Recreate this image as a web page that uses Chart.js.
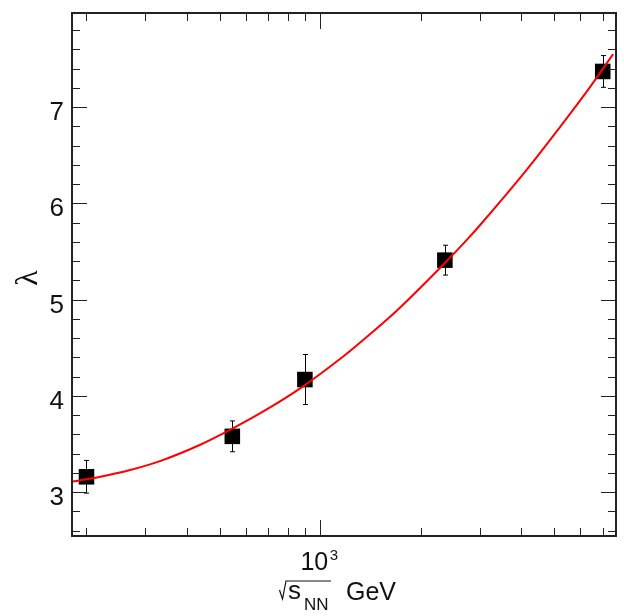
<!DOCTYPE html>
<html>
<head>
<meta charset="utf-8">
<script src="https://cdn.jsdelivr.net/npm/chart.js@4.4.1/dist/chart.umd.min.js"></script>
<style>
  body { margin: 0; background: #fff; overflow: hidden; }
</style>
</head>
<body>
<canvas id="myChart" width="624" height="616"></canvas>
<script>
// measured points (sqrt(s_NN) in GeV, lambda, error)
const energies = [200, 546, 900, 2360, 7000];
const lambdas = [3.16, 3.58, 4.17, 5.41, 7.37];
const errors = [0.17, 0.16, 0.26, 0.155, 0.165];

// red curve
const curveX = [182, 220, 270, 330, 436, 546, 700, 898, 1143, 1312, 1700, 2360, 2745, 3000, 4150, 5210, 6300, 7520];
const curveY = [3.11, 3.16, 3.23, 3.32, 3.49, 3.66, 3.87, 4.11, 4.38, 4.55, 4.89, 5.38, 5.62, 5.77, 6.35, 6.79, 7.17, 7.55];

const yMajor = [3, 4, 5, 6, 7];
const xMinor = [200, 300, 400, 500, 600, 700, 800, 900, 2000, 3000, 4000, 5000, 6000, 7000];
const xMajor = [1000];

const font = '"Liberation Sans", Arial, sans-serif';

const frame = {
    id: 'frame',
    beforeDatasetsDraw(chart) {
        const ctx = chart.ctx;
        const x = chart.scales.x, y = chart.scales.y;
        ctx.save();
        ctx.strokeStyle = '#000';
        ctx.lineWidth = 1;
        energies.forEach((e, i) => {
            const px = Math.round(x.getPixelForValue(e)) + 0.5;
            const top = y.getPixelForValue(lambdas[i] + errors[i]);
            const bot = y.getPixelForValue(lambdas[i] - errors[i]);
            ctx.beginPath();
            ctx.moveTo(px, top); ctx.lineTo(px, bot);
            ctx.moveTo(px - 2.5, top); ctx.lineTo(px + 2.5, top);
            ctx.moveTo(px - 2.5, bot); ctx.lineTo(px + 2.5, bot);
            ctx.stroke();
        });
        ctx.restore();
    },
    afterDraw(chart) {
        const ctx = chart.ctx;
        const a = chart.chartArea;
        const x = chart.scales.x, y = chart.scales.y;
        ctx.save();
        ctx.strokeStyle = '#222';
        ctx.lineWidth = 1;
        ctx.beginPath();
        // y ticks, left and right
        for (let v = 2.6; v < 8; v += 0.2) {
            const py = Math.round(y.getPixelForValue(v)) + 0.5;
            const isMajor = Math.abs(v - Math.round(v)) < 0.01;
            const len = isMajor ? 15 : 8;
            ctx.moveTo(a.left, py); ctx.lineTo(a.left + len, py);
            ctx.moveTo(a.right, py); ctx.lineTo(a.right - len, py);
        }
        // x ticks, bottom and top
        xMinor.concat(xMajor).forEach(v => {
            const px = Math.round(x.getPixelForValue(v)) + 0.5;
            const len = xMajor.includes(v) ? 16 : 8;
            ctx.moveTo(px, a.bottom); ctx.lineTo(px, a.bottom - len);
            ctx.moveTo(px, a.top); ctx.lineTo(px, a.top + len);
        });
        ctx.stroke();

        // frame
        ctx.lineWidth = 2;
        ctx.strokeRect(a.left, a.top, a.right - a.left, a.bottom - a.top);

        // y tick labels
        ctx.fillStyle = '#111';
        ctx.font = '26px ' + font;
        ctx.textAlign = 'right';
        ctx.textBaseline = 'alphabetic';
        yMajor.forEach(v => {
            ctx.fillText(String(v), a.left - 8, y.getPixelForValue(v) + 13);
        });

        // x tick label 10^3
        const px3 = x.getPixelForValue(1000);
        ctx.font = '25px ' + font;
        ctx.textAlign = 'right';
        ctx.fillText('10', px3 + 8, 570);
        ctx.font = '15px ' + font;
        ctx.textAlign = 'left';
        ctx.fillText('3', px3 + 9.5, 560);

        // x title: sqrt(s_NN) GeV
        ctx.lineWidth = 1.2;
        ctx.strokeStyle = '#111';
        ctx.beginPath();
        ctx.moveTo(279.5, 590);
        ctx.lineTo(282.5, 599);
        ctx.lineTo(286, 581);
        ctx.lineTo(331, 581);
        ctx.stroke();
        ctx.font = '26px ' + font;
        ctx.fillText('s', 288, 599);
        ctx.font = '17px ' + font;
        ctx.fillText('NN', 304, 610);
        ctx.font = '25px ' + font;
        ctx.fillText('GeV', 346, 600);

        // y title
        ctx.save();
        ctx.translate(29, 278);
        ctx.rotate(-Math.PI / 2);
        ctx.font = '32px "Liberation Serif", serif';
        ctx.textAlign = 'center';
        ctx.textBaseline = 'middle';
        ctx.fillText('λ', 0, 0);
        ctx.restore();

        ctx.restore();
    }
};

const ctx = document.getElementById('myChart');
new Chart(ctx, {
    type: 'scatter',
    data: {
        datasets: [{
            label: 'fit',
            type: 'line',
            data: curveX.map((v, i) => ({ x: v, y: curveY[i] })),
            borderColor: '#ff0000',
            borderWidth: 2,
            pointRadius: 0,
            cubicInterpolationMode: 'monotone',
            fill: false,
            order: 0
        }, {
            label: 'data',
            data: energies.map((v, i) => ({ x: v, y: lambdas[i] })),
            pointStyle: 'rect',
            pointRadius: 11,
            backgroundColor: '#000',
            borderColor: '#000',
            borderWidth: 0,
            order: 1
        }]
    },
    options: {
        responsive: false,
        animation: false,
        layout: {
            autoPadding: false,
            padding: { left: 72, right: 8, top: 13, bottom: 80 }
        },
        scales: {
            x: { type: 'logarithmic', min: 181, max: 7670, display: false },
            y: { type: 'linear', min: 2.545, max: 7.977, display: false }
        },
        plugins: {
            legend: { display: false },
            tooltip: { enabled: false }
        }
    },
    plugins: [frame]
});
</script>
</body>
</html>
